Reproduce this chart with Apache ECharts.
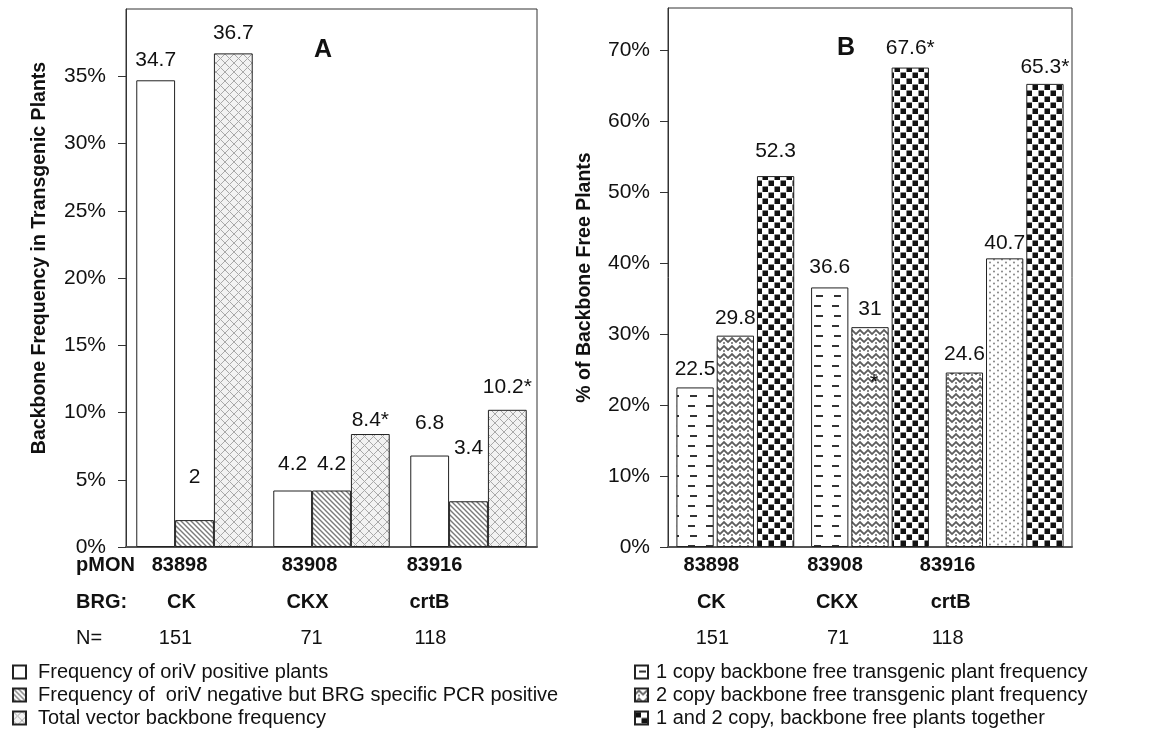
<!DOCTYPE html>
<html><head><meta charset="utf-8">
<script src="https://cdn.jsdelivr.net/npm/echarts@6/dist/echarts.min.js"></script>
<style>html,body{margin:0;padding:0;background:#fff}#c{width:1151px;height:735px}</style>
</head><body><div id="c"></div>
<script>
// ---------- data ----------
const plasmids = ['83898', '83908', '83916'];
const brgGenes = ['CK', 'CKX', 'crtB'];
const nPlants = ['151', '71', '118'];
const aNames = ['Frequency of oriV positive plants', 'Frequency of  oriV negative but BRG specific PCR positive', 'Total vector backbone frequency'];
const aOriVPositive = [34.7, 4.2, 6.8];
const aOriVNegBRG = [2, 4.2, 3.4];
const aTotal = [36.7, 8.4, 10.2];
const aTotalStar = [false, true, true];
const aTicks = [0, 5, 10, 15, 20, 25, 30, 35];
const bNames = ['1 copy backbone free transgenic plant frequency', '2 copy backbone free transgenic plant frequency', '1 and 2 copy, backbone free plants together'];
const bOneCopy = [22.5, 36.6, 24.6];
const bTwoCopy = [29.8, 31, 40.7];
const bTogether = [52.3, 67.6, 65.3];
const bTogetherStar = [false, true, true];
const bTicks = [0, 10, 20, 30, 40, 50, 60, 70];
const bInsideStar = { cat: '83908', value: 24 };

// ---------- styles ----------
const FONT = 'Liberation Sans, Arial, Helvetica, sans-serif';
function tile(w, h, draw) {
  const c = document.createElement('canvas'); c.width = w; c.height = h;
  const g = c.getContext('2d'); g.fillStyle = '#fff'; g.fillRect(0, 0, w, h); draw(g, w, h);
  return { image: c, repeat: 'repeat' };
}
const patStripes = tile(5, 5, g => { g.strokeStyle = '#7a7a7a'; g.lineWidth = 1.4;
  for (let k = -1; k <= 1; k++) { g.beginPath(); g.moveTo(k * 5 - 1, -1); g.lineTo(k * 5 + 6, 6); g.stroke(); } });
const patCross = tile(9, 9, g => { g.fillStyle = '#f2f2f2'; g.fillRect(0, 0, 9, 9); g.strokeStyle = '#a8a8a8'; g.lineWidth = 1;
  for (let k = -1; k <= 1; k++) {
    g.beginPath(); g.moveTo(k * 9 - 1, -1); g.lineTo(k * 9 + 10, 10); g.stroke();
    g.beginPath(); g.moveTo(k * 9 + 10, -1); g.lineTo(k * 9 - 1, 10); g.stroke(); } });
const patDash = tile(18, 20, g => { g.fillStyle = '#333'; g.fillRect(4, 5, 7, 2); g.fillRect(6, 15, 7, 2); });
const patZig = tile(8, 8, g => { g.strokeStyle = '#5e5e5e'; g.lineWidth = 1.9; g.beginPath();
  g.moveTo(-1, 7); g.lineTo(4, 2); g.lineTo(9, 7); g.stroke();
  g.fillStyle = '#8a8a8a'; g.fillRect(3, 6, 2, 2); });
const patCheck = tile(12, 12, g => { g.fillStyle = '#111'; g.fillRect(0.5, 0.5, 5.5, 5.5); g.fillRect(6.5, 6.5, 5.5, 5.5); });
const patDots = tile(8, 6, g => { g.fillStyle = '#777';
  g.beginPath(); g.arc(2, 1.5, 0.9, 0, 7); g.fill(); g.beginPath(); g.arc(6, 4.5, 0.9, 0, 7); g.fill(); });

const aLabelGap = [[10, 16, 22], [32, 16, 43], [10, 3, 12]];
const bLabelGap = [[8, 10, 8], [7, 7, 5], [14, 9, 6]];

function barSeries(name, vals, xi, color, gaps, stars, overrides) {
  return {
    name, type: 'bar', xAxisIndex: xi, yAxisIndex: xi,
    barGap: xi === 0 ? '0%' : '8%', barCategoryGap: xi === 0 ? '15%' : '12.5%',
    itemStyle: { color, borderColor: '#222', borderWidth: 1 },
    data: vals.map((v, i) => {
      const d = { value: v, label: { distance: gaps[i] } };
      if (overrides && overrides[i]) d.itemStyle = { color: overrides[i] };
      return d;
    }),
    label: { show: true, position: 'top', fontFamily: FONT, fontSize: 21, color: '#111',
      formatter: p => p.value + (stars && stars[p.dataIndex] ? '*' : '') },
    emphasis: { disabled: true }
  };
}

const chart = echarts.init(document.getElementById('c'), null, { renderer: 'canvas' });
const axisCommon = (max, ticks, name, nameGap, margin, namePad) => ({
  type: 'value', min: 0, max,
  axisLine: { show: true, lineStyle: { color: '#333', width: 1 } },
  axisTick: { show: true, inside: false, length: 8, customValues: ticks, lineStyle: { color: '#333' } },
  axisLabel: { customValues: ticks, formatter: v => v + '%', fontFamily: FONT, fontSize: 21, color: '#111', margin },
  splitLine: { show: false },
  name, nameLocation: 'middle', nameGap, nameRotate: 90,
  nameTextStyle: { fontFamily: FONT, fontSize: 19.5, fontWeight: 'bold', color: '#111', padding: namePad }
});
const xCommon = (gi) => ({
  type: 'category', gridIndex: gi, data: plasmids,
  axisLabel: { show: false }, axisTick: { show: false },
  axisLine: { lineStyle: { color: '#555', width: 2 } }
});

const twoCopySeries = barSeries(bNames[1], bTwoCopy, 1, patZig, bLabelGap[1], null, [null, null, patDots]);
twoCopySeries.markPoint = {
  symbol: 'circle', symbolSize: 0, silent: true,
  label: { show: true, formatter: '*', fontFamily: FONT, fontSize: 22, color: '#111', offset: [4, 6] },
  data: [{ coord: [bInsideStar.cat, bInsideStar.value] }]
};

chart.setOption({
  animation: false,
  backgroundColor: '#fff',
  grid: [
    { left: 126, top: 9, width: 411, height: 538, show: true, borderColor: '#333', borderWidth: 1 },
    { left: 668, top: 8, width: 404, height: 539, show: true, borderColor: '#333', borderWidth: 1 }
  ],
  xAxis: [xCommon(0), xCommon(1)],
  yAxis: [
    Object.assign({ gridIndex: 0 }, axisCommon(40, aTicks, 'Backbone Frequency in Transgenic Plants', 76, 20, [0, 0, 0, 40])),
    Object.assign({ gridIndex: 1 }, axisCommon(76, bTicks, '% of Backbone Free Plants', 73, 18, 0))
  ],
  legend: [
    { data: aNames, orient: 'vertical', left: 12, top: 662, padding: 0, itemWidth: 13, itemHeight: 13, itemGap: 3,
      icon: 'rect', selectedMode: false,
      textStyle: { fontFamily: FONT, fontSize: 20, color: '#111', lineHeight: 20, padding: [0, 0, 0, 7] } },
    { data: bNames, orient: 'vertical', left: 634, top: 662, padding: 0, itemWidth: 13, itemHeight: 13, itemGap: 3,
      icon: 'rect', selectedMode: false,
      textStyle: { fontFamily: FONT, fontSize: 20, color: '#111', lineHeight: 20, padding: [0, 0, 0, 3] } }
  ],
  series: [
    barSeries(aNames[0], aOriVPositive, 0, '#fff', aLabelGap[0]),
    barSeries(aNames[1], aOriVNegBRG, 0, patStripes, aLabelGap[1]),
    barSeries(aNames[2], aTotal, 0, patCross, aLabelGap[2], aTotalStar),
    barSeries(bNames[0], bOneCopy, 1, patDash, bLabelGap[0], null, [null, null, patZig]),
    twoCopySeries,
    barSeries(bNames[2], bTogether, 1, patCheck, bLabelGap[2], bTogetherStar)
  ]
});

// category text rows below each panel, placed from the category scale
const rowY = [565, 602, 638];
const rowShiftA = [[-15, -22, -34], [-13, -24, -39], [-19, -20, -38]];
const rowShiftB = [[-24, -35, -57], [-24, -33, -54], [-23, -32, -57]];
const rows = [plasmids, brgGenes, nPlants];
const rowBold = [true, true, false];
const els = [];
function txt(x, y, s, bold, align, size) {
  els.push({ type: 'text', x, y, silent: true,
    style: { text: s, fontFamily: FONT, fontSize: size || 20, fontWeight: bold ? 'bold' : 'normal', fill: '#111',
      textAlign: align || 'center', textVerticalAlign: 'middle' } });
}
[0, 1].forEach(ax => {
  plasmids.forEach((p, i) => {
    const cx = chart.convertToPixel({ xAxisIndex: ax }, p);
    rows.forEach((r, ri) => {
      const sh = (ax === 0 ? rowShiftA : rowShiftB)[ri][i];
      txt(cx + sh, rowY[ri], r[i], rowBold[ri]);
    });
  });
});
txt(76, rowY[0], 'pMON', true, 'left');
txt(76, rowY[1], 'BRG:', true, 'left');
txt(76, rowY[2], 'N=', false, 'left');
txt(323, 50, 'A', true, 'center', 25);
txt(846, 48, 'B', true, 'center', 25);
chart.setOption({ graphic: els });
</script></body></html>
